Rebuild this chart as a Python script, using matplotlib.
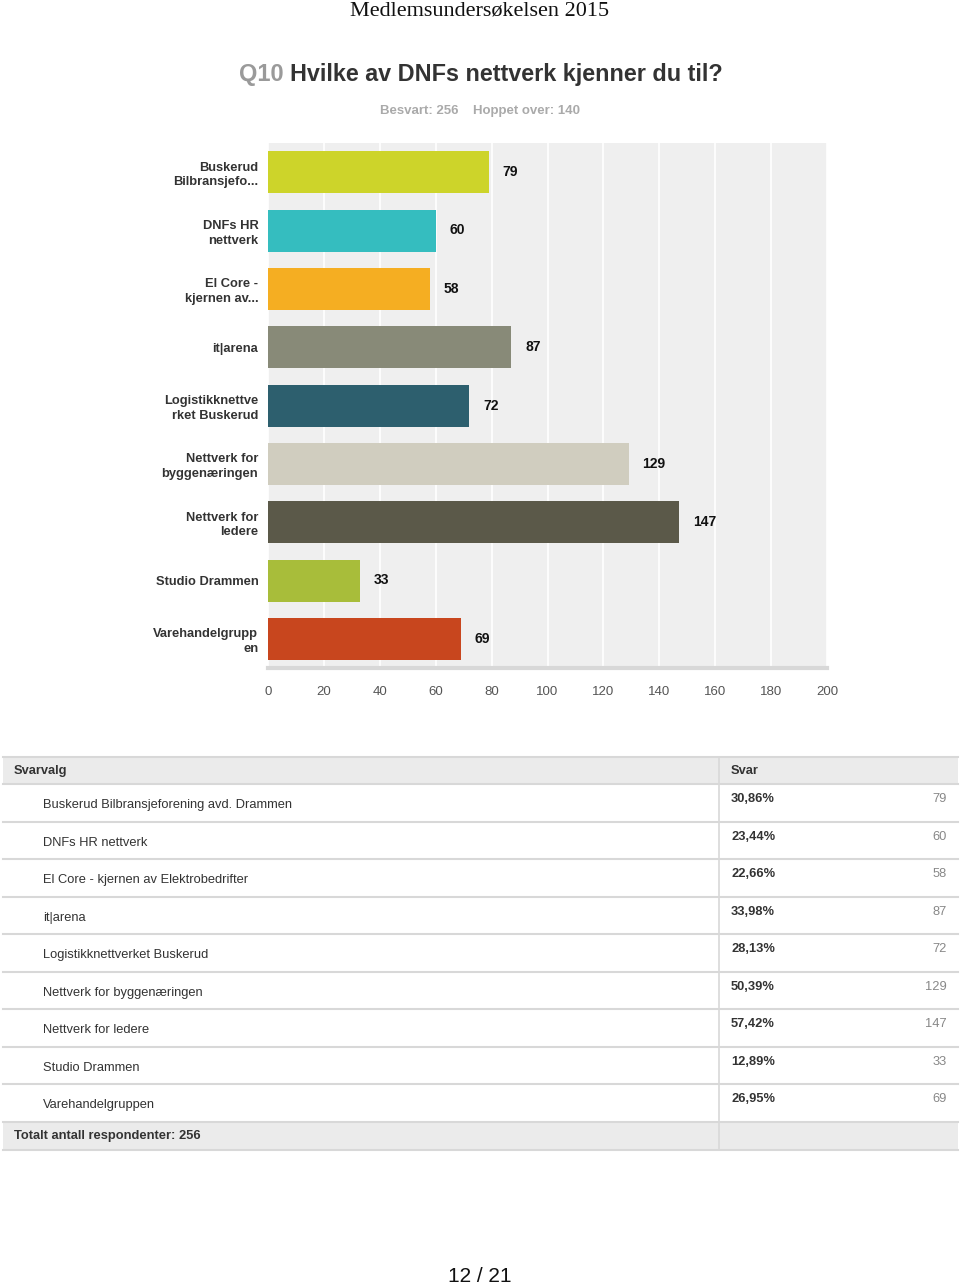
#!/usr/bin/env python3
"""Q10 - Hvilke av DNFs nettverk kjenner du til? (bar chart + answer table)"""

import matplotlib
matplotlib.use("Agg")
import matplotlib.pyplot as plt
from matplotlib.patches import Rectangle

# Data
short_labels = [
    "Buskerud\nBilbransjefo...",
    "DNFs HR\nnettverk",
    "El Core -\nkjernen av...",
    "it|arena",
    "Logistikknettve\nrket Buskerud",
    "Nettverk for\nbyggenæringen",
    "Nettverk for\nledere",
    "Studio Drammen",
    "Varehandelgrupp\nen",
]
full_labels = [
    "Buskerud Bilbransjeforening avd. Drammen",
    "DNFs HR nettverk",
    "El Core - kjernen av Elektrobedrifter",
    "it|arena",
    "Logistikknettverket Buskerud",
    "Nettverk for byggenæringen",
    "Nettverk for ledere",
    "Studio Drammen",
    "Varehandelgruppen",
]
counts = [79, 60, 58, 87, 72, 129, 147, 33, 69]
percents = ["30,86%", "23,44%", "22,66%", "33,98%", "28,13%",
            "50,39%", "57,42%", "12,89%", "26,95%"]
colors = ["#cdd42a", "#35bdbf", "#f5ae22", "#888a78", "#2d5f6e",
          "#d0cdbf", "#5b5949", "#a8bd3a", "#c8461e"]
x_ticks = list(range(0, 201, 20))
answered = 256
skipped = 140

SANS = "Liberation Sans"
DARK = "#333333"
FS = 9.3

fig = plt.figure(figsize=(9.6, 12.88), dpi=100)
W, H = 960, 1288

# Page header / titles
fig.text(0.5, 1 - 11 / H, "Medlemsundersøkelsen 2015", ha="center", va="center",
         family="Liberation Serif", fontsize=16, color="#111111")
t_main = "Hvilke av DNFs nettverk kjenner du til?"
fig.text(0.2485, 1 - 75 / H, "Q10", ha="left", va="center", family=SANS,
         fontsize=17, fontweight="bold", color="#9a9a9a")
fig.text(0.302, 1 - 75 / H, t_main, ha="left", va="center", family=SANS,
         fontsize=16.8, fontweight="bold", color=DARK)
fig.text(0.5, 1 - 111 / H, f"Besvart: {answered}    Hoppet over: {skipped}",
         ha="center", va="center", family=SANS, fontsize=9.5, fontweight="bold",
         color="#aaaaaa")

# Bar chart
ax = fig.add_axes([268 / W, 1 - 668 / H, 559 / W, 525 / H])
ax.set_facecolor("#efefef")
ypos = list(range(len(counts)))
ax.barh(ypos, counts, height=0.72, color=colors, zorder=3)
ax.set_xlim(0, 200)
ax.set_ylim(len(counts) - 0.5, -0.5)
ax.set_xticks(x_ticks)
ax.set_xticklabels([str(t) for t in x_ticks], family=SANS, fontsize=9.5, color="#555555")
ax.set_yticks(ypos)
ax.set_yticklabels(short_labels, family=SANS, fontsize=FS, fontweight="bold",
                   color=DARK, linespacing=1.3)
ax.tick_params(axis="both", length=0)
ax.tick_params(axis="x", pad=13)
ax.tick_params(axis="y", pad=7)
ax.grid(axis="x", color="white", linewidth=1.2, zorder=1)
ax.set_axisbelow(True)
for s in ("top", "left", "right"):
    ax.spines[s].set_visible(False)
ax.spines["bottom"].set_color("#d8d8d8")
ax.spines["bottom"].set_linewidth(3)
for y, v in zip(ypos, counts):
    ax.annotate(str(v), (v, y), xytext=(10, 0), textcoords="offset points",
                ha="left", va="center", family=SANS, fontsize=10,
                fontweight="bold", color="#111111")

# Table (pixel coordinates)
tx = fig.add_axes([0, 0, 1, 1])
tx.set_xlim(0, W)
tx.set_ylim(H, 0)
tx.axis("off")
tx.patch.set_alpha(0)

left, right, col = 3, 958, 719
head_top, head_bot = 757, 784
row_h = 37.55
n = len(full_labels)
tot_top = head_bot + n * row_h
tot_bot = tot_top + 28
line_c = "#d8d8d8"

tx.add_patch(Rectangle((left, head_top), right - left, head_bot - head_top,
                       facecolor="#ebebeb", edgecolor="none"))
tx.add_patch(Rectangle((left, tot_top), right - left, tot_bot - tot_top,
                       facecolor="#ebebeb", edgecolor="none"))
for yb in [head_top, head_bot] + [head_bot + (i + 1) * row_h for i in range(n)] + [tot_bot]:
    tx.plot([left, right], [yb, yb], color=line_c, linewidth=1.5)
tx.plot([col, col], [head_top, tot_bot], color=line_c, linewidth=1.2)

tx.text(14, (head_top + head_bot) / 2, "Svarvalg", ha="left", va="center",
        family=SANS, fontsize=FS, fontweight="bold", color=DARK)
tx.text(731, (head_top + head_bot) / 2, "Svar", ha="left", va="center",
        family=SANS, fontsize=FS, fontweight="bold", color=DARK)
for i, (name, pct, c) in enumerate(zip(full_labels, percents, counts)):
    top = head_bot + i * row_h
    tx.text(43, top + 21, name, ha="left", va="center", family=SANS,
            fontsize=FS, color=DARK)
    tx.text(731, top + 15, pct, ha="left", va="center", family=SANS,
            fontsize=FS, fontweight="bold", color=DARK)
    tx.text(947, top + 15, str(c), ha="right", va="center", family=SANS,
            fontsize=FS, color="#888888")
tx.text(14, (tot_top + tot_bot) / 2, f"Totalt antall respondenter: {answered}",
        ha="left", va="center", family=SANS, fontsize=FS, fontweight="bold",
        color=DARK)

# Page number
fig.text(0.5, 1 - 1277 / H, "12 / 21", ha="center", va="center", family=SANS,
         fontsize=15, color="#111111")

fig.savefig("out.png", dpi=100)
